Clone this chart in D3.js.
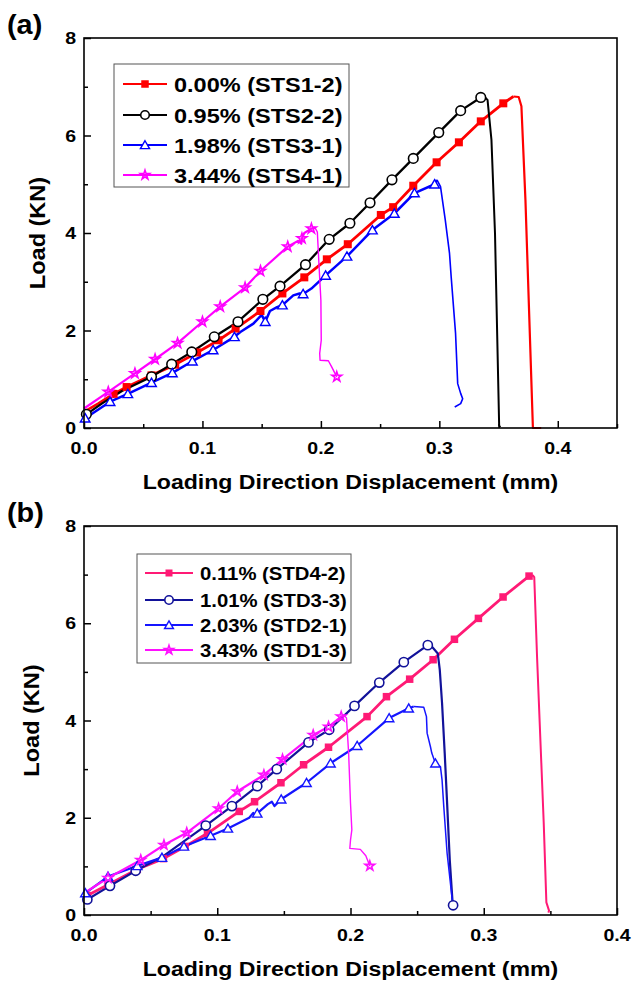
<!DOCTYPE html>
<html>
<head>
<meta charset="utf-8">
<script src="https://cdn.jsdelivr.net/npm/d3@7"></script>
<style>
  html, body { margin: 0; padding: 0; background: #fff; }
  svg { display: block; }
</style>
</head>
<body>
<svg id="chart" width="633" height="986"></svg>
<script>
// ---- data: [displacement (mm), load (kN), marker flag] ----
const sts12 = [[0,0.33,0],[0.012,0.50,0],[0.025,0.70,1],[0.036,0.84,1],[0.057,1.08,1],[0.077,1.30,1],[0.0955,1.55,1],[0.1136,1.80,1],[0.128,2.04,1],[0.149,2.40,1],[0.1675,2.76,1],[0.186,3.09,1],[0.205,3.46,1],[0.2227,3.77,1],[0.2506,4.37,1],[0.261,4.53,1],[0.278,4.97,1],[0.2977,5.45,1],[0.3165,5.86,1],[0.335,6.29,1],[0.354,6.66,1],[0.3625,6.80,0],[0.367,6.79,0],[0.3693,6.6,0],[0.3727,4.68,0],[0.379,0,0],[0.386,0,0]];
const sts22 = [[0,0.19,0],[0.002,0.28,1],[0.015,0.50,0],[0.032,0.76,0],[0.057,1.05,1],[0.074,1.31,1],[0.091,1.56,1],[0.110,1.87,1],[0.130,2.18,1],[0.151,2.64,1],[0.1655,2.91,1],[0.187,3.35,1],[0.207,3.87,1],[0.2245,4.20,1],[0.2415,4.62,1],[0.260,5.09,1],[0.278,5.53,1],[0.2995,6.06,1],[0.318,6.51,1],[0.335,6.78,1],[0.337,6.82,0],[0.3407,6.73,0],[0.344,5.91,0],[0.347,3.99,0],[0.3505,0.05,0],[0.3515,0.02,0]];
const sts31 = [[0,0.14,0],[0.001,0.2,1],[0.022,0.54,1],[0.037,0.70,1],[0.057,0.93,1],[0.0746,1.13,1],[0.0915,1.37,1],[0.109,1.60,1],[0.127,1.87,1],[0.132,1.97,0],[0.143,2.14,0],[0.150,2.32,0],[0.153,2.18,1],[0.157,2.40,0],[0.163,2.48,0],[0.1675,2.52,1],[0.1767,2.72,0],[0.182,2.76,0],[0.185,2.75,1],[0.192,2.86,0],[0.204,3.13,1],[0.222,3.52,1],[0.2435,4.06,1],[0.262,4.40,1],[0.279,4.82,1],[0.296,5.0,1],[0.298,5.09,0],[0.301,4.95,0],[0.305,4.27,0],[0.3086,3.58,0],[0.310,3.1,0],[0.3137,1.94,0],[0.3155,0.91,0],[0.318,0.71,0],[0.3197,0.6,0],[0.318,0.5,0],[0.313,0.43,0]];
const sts41 = [[0,0.40,0],[0.0205,0.74,1],[0.043,1.12,1],[0.06,1.41,1],[0.079,1.74,1],[0.100,2.18,1],[0.115,2.49,1],[0.136,2.88,1],[0.149,3.22,1],[0.172,3.72,1],[0.181,3.84,0],[0.1835,3.78,0],[0.184,3.89,1],[0.186,4.0,0],[0.192,4.09,1],[0.195,4.11,0],[0.197,4.02,0],[0.1985,3.3,0],[0.2,2.62,0],[0.2003,1.80,0],[0.199,1.53,0],[0.1993,1.39,0],[0.2063,1.38,0],[0.209,1.26,0],[0.2134,1.05,1]];

const std42 = [[0,0.38,0],[0.0025,0.40,1],[0.018,0.62,1],[0.040,0.94,1],[0.0596,1.16,1],[0.0759,1.41,1],[0.0927,1.68,1],[0.1165,2.13,1],[0.128,2.33,1],[0.1478,2.72,1],[0.1648,3.09,1],[0.1835,3.45,1],[0.2124,4.08,1],[0.227,4.49,1],[0.2444,4.85,1],[0.262,5.25,1],[0.278,5.67,1],[0.296,6.10,1],[0.3145,6.54,1],[0.334,6.97,1],[0.3367,6.99,0],[0.3379,6.95,0],[0.340,5.31,0],[0.345,1.90,0],[0.347,0.26,0],[0.349,0.09,0],[0.3485,0.05,0]];
const std33 = [[0,0.30,0],[0.0025,0.32,1],[0.0195,0.60,1],[0.0388,0.91,1],[0.06,1.22,0],[0.0914,1.84,1],[0.111,2.24,1],[0.130,2.65,1],[0.1447,3.0,1],[0.1685,3.55,1],[0.184,3.81,1],[0.203,4.30,1],[0.2216,4.78,1],[0.240,5.20,1],[0.258,5.55,1],[0.261,5.52,0],[0.2655,5.38,0],[0.267,5.04,0],[0.2687,4.36,0],[0.2707,3.33,0],[0.2725,2.30,0],[0.2745,1.13,0],[0.2765,0.3,0],[0.277,0.2,1]];
const std21 = [[0,0.43,0],[0.001,0.45,1],[0.018,0.79,1],[0.040,1.01,1],[0.0585,1.18,1],[0.075,1.41,1],[0.095,1.63,1],[0.108,1.78,1],[0.124,2.0,0],[0.127,2.1,0],[0.128,2.03,0],[0.130,2.09,1],[0.138,2.28,0],[0.141,2.33,0],[0.143,2.24,0],[0.148,2.38,1],[0.167,2.72,1],[0.185,3.12,1],[0.205,3.48,1],[0.229,4.05,1],[0.2437,4.25,1],[0.2474,4.29,0],[0.255,4.27,0],[0.257,4.08,0],[0.2575,3.74,0],[0.26,3.46,0],[0.261,3.33,0],[0.2637,3.12,1],[0.2675,3.05,0],[0.2687,2.78,0],[0.270,2.23,0],[0.2725,1.27,0],[0.2767,0.23,0]];
const std13 = [[0,0.45,0],[0.018,0.76,1],[0.0426,1.13,1],[0.060,1.44,1],[0.0771,1.69,1],[0.101,2.19,1],[0.115,2.54,1],[0.135,2.88,1],[0.149,3.20,1],[0.172,3.70,1],[0.1815,3.84,0],[0.1825,3.76,0],[0.1835,3.87,1],[0.193,4.08,1],[0.195,4.11,0],[0.197,4.05,0],[0.1986,3.33,0],[0.200,2.30,0],[0.201,1.75,0],[0.200,1.54,0],[0.1995,1.37,0],[0.2074,1.35,0],[0.2115,1.22,0],[0.2145,1.01,1]];

const labelsA = ["0.00% (STS1-2)", "0.95% (STS2-2)", "1.98% (STS3-1)", "3.44% (STS4-1)"];
const labelsB = ["0.11% (STD4-2)", "1.01% (STD3-3)", "2.03% (STD2-1)", "3.43% (STD1-3)"];
const xTickValues = [0, 0.1, 0.2, 0.3, 0.4];
const xTickLabels = ["0.0", "0.1", "0.2", "0.3", "0.4"];
const yTickValues = [0, 2, 4, 6, 8];
const yTickLabels = ["0", "2", "4", "6", "8"];
const xDomainA = [0, 0.45];
const xDomainB = [0, 0.4];
const yDomain = [0, 8];

// ---- drawing ----
const svg = d3.select("#chart");
const FONT = 'Arial, "Liberation Sans", sans-serif';

function label(g, x, y, str, size, sx, anchor, rot) {
  return g.append("text")
    .attr("transform", `translate(${x},${y}) rotate(${rot || 0}) scale(${sx},1)`)
    .attr("text-anchor", anchor)
    .style("font-family", FONT)
    .style("font-weight", "bold")
    .style("font-size", size + "px")
    .attr("fill", "#000")
    .text(str);
}

function marker(g, shape, cx, cy, color, s) {
  if (shape === "square") {
    g.append("rect").attr("x", cx - s.sq / 2).attr("y", cy - s.sq / 2)
      .attr("width", s.sq).attr("height", s.sq).attr("fill", color);
  } else if (shape === "circle") {
    g.append("circle").attr("cx", cx).attr("cy", cy).attr("r", s.r)
      .attr("fill", "#fff").attr("stroke", color).attr("stroke-width", 1.6);
  } else if (shape === "triangle") {
    g.append("path").attr("d", d3.symbol(d3.symbolTriangle, s.tri)())
      .attr("transform", `translate(${cx},${cy + 1})`)
      .attr("fill", "#fff").attr("stroke", color).attr("stroke-width", 1.4);
  } else if (shape === "star") {
    g.append("path").attr("d", d3.symbol(d3.symbolStar, s.star)())
      .attr("transform", `translate(${cx},${cy})`)
      .attr("fill", "none").attr("stroke", color).attr("stroke-width", 1.6);
  }
}

function drawPanel(p) {
  const g = svg.append("g");
  const x = d3.scaleLinear().domain(p.xDomain).range([p.left, p.right]);
  const y = d3.scaleLinear().domain(yDomain).range([p.bottom, p.top]);

  // major & minor ticks pointing inward
  const xMinor = d3.range(0.05, p.xDomain[1] + 1e-9, 0.1);
  const yMinor = [1, 3, 5, 7];
  g.append("g").attr("transform", `translate(0,${p.bottom})`)
    .call(d3.axisBottom(x).tickValues(xTickValues).tickSize(-7).tickFormat(""))
    .call(a => a.select(".domain").remove());
  g.append("g").attr("transform", `translate(0,${p.bottom})`)
    .call(d3.axisBottom(x).tickValues(xMinor).tickSize(-4).tickFormat(""))
    .call(a => a.select(".domain").remove());
  g.append("g").attr("transform", `translate(${p.left},0)`)
    .call(d3.axisLeft(y).tickValues(yTickValues).tickSize(-7).tickFormat(""))
    .call(a => a.select(".domain").remove());
  g.append("g").attr("transform", `translate(${p.left},0)`)
    .call(d3.axisLeft(y).tickValues(yMinor).tickSize(-4).tickFormat(""))
    .call(a => a.select(".domain").remove());
  g.selectAll(".tick line").attr("stroke", "#000").attr("stroke-width", 1.5);

  // tick labels
  xTickValues.forEach((v, i) => label(g, x(v), p.bottom + 26, xTickLabels[i], 17, 1.15, "middle"));
  yTickValues.forEach((v, i) => label(g, p.left - 8, y(v) + 6, yTickLabels[i], 17, 1.15, "end"));

  // series
  const line = d3.line().x(d => x(d[0])).y(d => y(d[1]));
  const plot = g.append("g");
  p.series.forEach(s => {
    let pk = 0;
    s.data.forEach((d, i) => { if (d[1] > s.data[pk][1]) pk = i; });
    plot.append("path").datum(s.data.slice(pk)).attr("d", line)
      .attr("fill", "none").attr("stroke", s.color).attr("stroke-width", s.tail)
      .attr("stroke-linejoin", "round");
    plot.append("path").datum(s.data.slice(0, pk + 1)).attr("d", line)
      .attr("fill", "none").attr("stroke", s.color).attr("stroke-width", s.width)
      .attr("stroke-linejoin", "round");
  });
  p.series.forEach(s => {
    s.data.filter(d => d[2]).forEach(d => marker(plot, s.shape, x(d[0]), y(d[1]), s.color, p.msize));
  });

  // frame
  g.append("rect").attr("x", p.left).attr("y", p.top)
    .attr("width", p.right - p.left).attr("height", p.bottom - p.top)
    .attr("fill", "none").attr("stroke", "#000").attr("stroke-width", 1.6);

  // legend
  const L = p.legend;
  g.append("rect").attr("x", L.x0).attr("y", L.y0)
    .attr("width", L.x1 - L.x0).attr("height", L.y1 - L.y0)
    .attr("fill", "#fff").attr("stroke", "#555").attr("stroke-width", 1);
  p.series.forEach((s, i) => {
    const ry = L.rows[i];
    g.append("line").attr("x1", L.lx0).attr("x2", L.lx1).attr("y1", ry).attr("y2", ry)
      .attr("stroke", s.color).attr("stroke-width", 2);
    marker(g, s.shape, (L.lx0 + L.lx1) / 2, ry, s.color, L.msize);
    label(g, L.tx, ry + L.dy, s.label, L.font, L.sx, "start");
  });

  // axis titles and panel tag
  label(g, (p.left + p.right) / 2, p.bottom + 61, "Loading Direction Displacement (mm)", 21, 1.1, "middle");
  label(g, p.yTitleX, (p.top + p.bottom) / 2, "Load (KN)", 22, 1.07, "middle", -90);
  label(g, 7, p.tagY, p.tag, 28, 1.03, "start");
}

drawPanel({
  tag: "(a)", tagY: 34,
  left: 84, right: 617, top: 38, bottom: 428, yTitleX: 45,
  xDomain: xDomainA,
  msize: { sq: 8, r: 4.8, tri: 40, star: 30 },
  series: [
    { data: sts12, color: "#ff0000", shape: "square",   width: 2.8, tail: 2.2, label: labelsA[0] },
    { data: sts22, color: "#000000", shape: "circle",   width: 2.3, tail: 2.0, label: labelsA[1] },
    { data: sts31, color: "#0000ff", shape: "triangle", width: 2.5, tail: 1.6, label: labelsA[2] },
    { data: sts41, color: "#ff00ff", shape: "star",     width: 2.2, tail: 1.4, label: labelsA[3] }
  ],
  legend: { x0: 114, x1: 349, y0: 64, y1: 187, rows: [84, 115, 145, 175],
            lx0: 123, lx1: 167, tx: 174, dy: 7.5, font: 21, sx: 1.12,
            msize: { sq: 7.5, r: 4.3, tri: 36, star: 26 } }
});

drawPanel({
  tag: "(b)", tagY: 522,
  left: 84, right: 617, top: 526, bottom: 915, yTitleX: 39,
  xDomain: xDomainB,
  msize: { sq: 7.5, r: 4.6, tri: 38, star: 28 },
  series: [
    { data: std42, color: "#ff1a75", shape: "square",   width: 2.8, tail: 2.0, label: labelsB[0] },
    { data: std33, color: "#12129a", shape: "circle",   width: 2.2, tail: 2.2, label: labelsB[1] },
    { data: std21, color: "#1515ff", shape: "triangle", width: 2.2, tail: 1.5, label: labelsB[2] },
    { data: std13, color: "#ff10ff", shape: "star",     width: 2.2, tail: 1.4, label: labelsB[3] }
  ],
  legend: { x0: 137, x1: 351, y0: 554, y1: 663, rows: [573, 600, 625, 650],
            lx0: 145, lx1: 193, tx: 200, dy: 6.7, font: 19, sx: 1.07,
            msize: { sq: 7, r: 4.2, tri: 34, star: 24 } }
});
</script>
</body>
</html>
